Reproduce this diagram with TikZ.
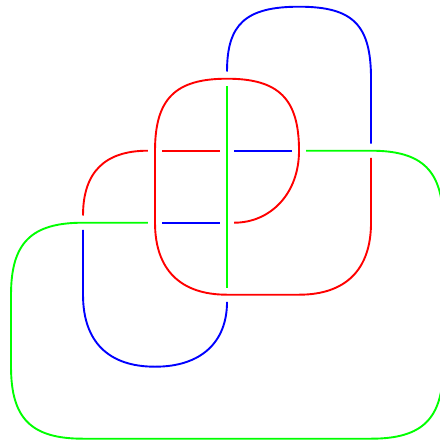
\documentclass[tikz,border=0pt]{standalone}
\begin{document}
\begin{tikzpicture}[x=1cm,y=1cm,
  strand/.style={line width=0.75pt},
  redstrand/.style={strand,draw=red},
  greenstrand/.style={strand,draw=green},
  bluestrand/.style={strand,draw=blue},
  under/.style={shorten <=0.1cm,shorten >=0.1cm}]
\useasboundingbox (-0.153,-0.018) rectangle (5.958,6.093);
% blue top arc
\draw[bluestrand,under] (3,5) .. controls (3,5.75) and (3.25,6) .. (4,6)
  .. controls (4.75,6) and (5,5.75) .. (5,5) -- (5,4);
% red main arc
\draw[redstrand,under] (5,4) -- (5,3) .. controls (5,2.35) and (4.65,2) .. (4,2)
  -- (3,2) .. controls (2.35,2) and (2,2.35) .. (2,3)
  -- (2,4) .. controls (2,4.72) and (2.28,5) .. (3,5)
  .. controls (3.72,5) and (4,4.72) .. (4,4)
  .. controls (4,3.4) and (3.6,3) .. (3,3);
% blue short segment lower
\draw[bluestrand,under] (3,3) -- (2,3);
% green outer arc
\draw[greenstrand,under] (2,3) -- (1,3) .. controls (0.28,3) and (0,2.72) .. (0,2)
  -- (0,1) .. controls (0,0.28) and (0.28,0) .. (1,0)
  -- (5,0) .. controls (5.72,0) and (6,0.28) .. (6,1)
  -- (6,3) .. controls (6,3.72) and (5.72,4) .. (5,4)
  -- (4,4);
% blue short segment upper
\draw[bluestrand,under] (4,4) -- (3,4);
% red pieces upper left
\draw[redstrand,under] (3,4) -- (2,4);
\draw[redstrand,under] (2,4) .. controls (1.3,4) and (1,3.7) .. (1,3);
% blue lower loop
\draw[bluestrand,under] (1,3) -- (1,2) .. controls (1,1.35) and (1.35,1) .. (2,1)
  .. controls (2.65,1) and (3,1.35) .. (3,2);
% green vertical
\draw[greenstrand,under] (3,2) -- (3,5);
\end{tikzpicture}
\end{document}
